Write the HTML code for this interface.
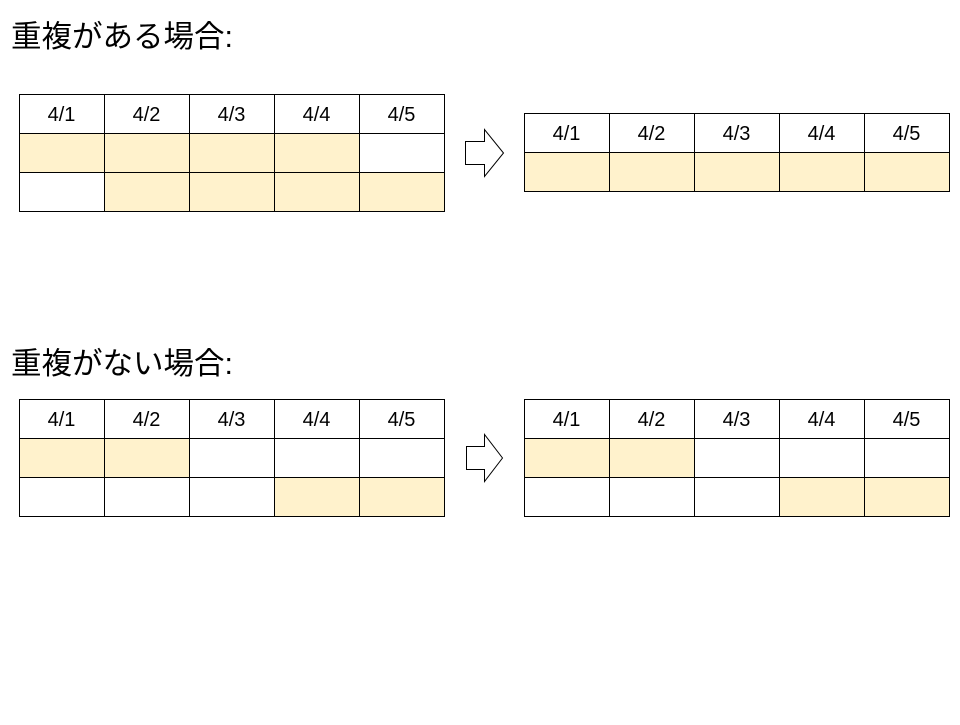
<!DOCTYPE html>
<html><head><meta charset="utf-8"><style>
body{margin:0;background:#fff;}
svg text{font-family:"Liberation Sans","Noto Sans CJK JP",sans-serif;}
</style></head><body>
<svg width="960" height="720" xmlns="http://www.w3.org/2000/svg">
<rect width="960" height="720" fill="#fff"/>
<text x="11" y="47" font-size="30.5" fill="#000">重複がある場合:</text>
<text x="11" y="374" font-size="30.5" fill="#000">重複がない場合:</text>
<rect x="19" y="133" width="340" height="39" fill="#FFF2CC"/>
<rect x="104" y="172" width="340" height="39" fill="#FFF2CC"/>
<g stroke="#000" stroke-width="1" fill="none">
<rect x="19.5" y="94.5" width="425" height="117"/>
<line x1="19" y1="133.5" x2="444" y2="133.5"/><line x1="19" y1="172.5" x2="444" y2="172.5"/>
<line x1="104.5" y1="94" x2="104.5" y2="211"/><line x1="189.5" y1="94" x2="189.5" y2="211"/>
<line x1="274.5" y1="94" x2="274.5" y2="211"/><line x1="359.5" y1="94" x2="359.5" y2="211"/>
</g>
<g font-size="20" text-anchor="middle" fill="#000">
<text x="61.5" y="121">4/1</text><text x="146.5" y="121">4/2</text><text x="231.5" y="121">4/3</text><text x="316.5" y="121">4/4</text><text x="401.5" y="121">4/5</text>
</g>
<rect x="524" y="152" width="425" height="39" fill="#FFF2CC"/>
<g stroke="#000" stroke-width="1" fill="none">
<rect x="524.5" y="113.5" width="425" height="78"/>
<line x1="524" y1="152.5" x2="949" y2="152.5"/>
<line x1="609.5" y1="113" x2="609.5" y2="191"/><line x1="694.5" y1="113" x2="694.5" y2="191"/>
<line x1="779.5" y1="113" x2="779.5" y2="191"/><line x1="864.5" y1="113" x2="864.5" y2="191"/>
</g>
<g font-size="20" text-anchor="middle" fill="#000">
<text x="566.5" y="140">4/1</text><text x="651.5" y="140">4/2</text><text x="736.5" y="140">4/3</text><text x="821.5" y="140">4/4</text><text x="906.5" y="140">4/5</text>
</g>
<polygon points="465.5,141.5 484.5,141.5 484.5,129.5 503.5,153 484.5,176.5 484.5,164.5 465.5,164.5" fill="#fff" stroke="#000" stroke-width="1"/>

<rect x="19" y="438" width="170" height="39" fill="#FFF2CC"/>
<rect x="274" y="477" width="170" height="39" fill="#FFF2CC"/>
<g stroke="#000" stroke-width="1" fill="none">
<rect x="19.5" y="399.5" width="425" height="117"/>
<line x1="19" y1="438.5" x2="444" y2="438.5"/><line x1="19" y1="477.5" x2="444" y2="477.5"/>
<line x1="104.5" y1="399" x2="104.5" y2="516"/><line x1="189.5" y1="399" x2="189.5" y2="516"/>
<line x1="274.5" y1="399" x2="274.5" y2="516"/><line x1="359.5" y1="399" x2="359.5" y2="516"/>
</g>
<g font-size="20" text-anchor="middle" fill="#000">
<text x="61.5" y="426">4/1</text><text x="146.5" y="426">4/2</text><text x="231.5" y="426">4/3</text><text x="316.5" y="426">4/4</text><text x="401.5" y="426">4/5</text>
</g>
<rect x="524" y="438" width="170" height="39" fill="#FFF2CC"/>
<rect x="779" y="477" width="170" height="39" fill="#FFF2CC"/>
<g stroke="#000" stroke-width="1" fill="none">
<rect x="524.5" y="399.5" width="425" height="117"/>
<line x1="524" y1="438.5" x2="949" y2="438.5"/><line x1="524" y1="477.5" x2="949" y2="477.5"/>
<line x1="609.5" y1="399" x2="609.5" y2="516"/><line x1="694.5" y1="399" x2="694.5" y2="516"/>
<line x1="779.5" y1="399" x2="779.5" y2="516"/><line x1="864.5" y1="399" x2="864.5" y2="516"/>
</g>
<g font-size="20" text-anchor="middle" fill="#000">
<text x="566.5" y="426">4/1</text><text x="651.5" y="426">4/2</text><text x="736.5" y="426">4/3</text><text x="821.5" y="426">4/4</text><text x="906.5" y="426">4/5</text>
</g>
<polygon points="466.5,446.5 484.5,446.5 484.5,434.5 502.5,458 484.5,481.5 484.5,469.5 466.5,469.5" fill="#fff" stroke="#000" stroke-width="1"/>
</svg>
</body></html>
